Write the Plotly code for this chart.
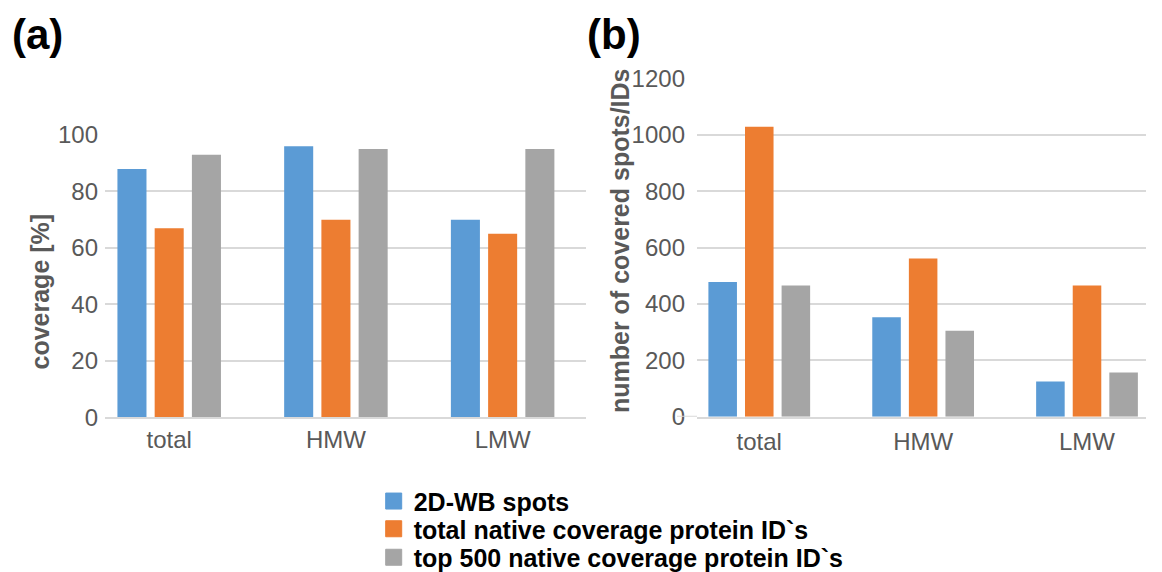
import plotly.graph_objects as go

# ---- data ----
categories = ["total", "HMW", "LMW"]
series_names = [
    "2D-WB spots",
    "total native coverage protein ID`s",
    "top 500 native coverage protein ID`s",
]
coverage_pct = {
    "2D-WB spots": [88, 96, 70],
    "total native coverage protein ID`s": [67, 70, 65],
    "top 500 native coverage protein ID`s": [93, 95, 95],
}
covered_counts = {
    "2D-WB spots": [478, 353, 125],
    "total native coverage protein ID`s": [1028, 561, 465],
    "top 500 native coverage protein ID`s": [465, 305, 157],
}
left_ticks = [0, 20, 40, 60, 80, 100]
right_ticks = [0, 200, 400, 600, 800, 1000, 1200]

colors = ["#5B9BD5", "#ED7D31", "#A5A5A5"]

W, H = 1162, 572
FONT = "Liberation Sans, Arial, sans-serif"
TICK_COLOR = "#595959"
GRID = "#D9D9D9"


def px_x(x):
    return x / W


def px_y(y):
    return 1 - y / H


fig = go.Figure()

legend_names = ["legend", "legend2", "legend3"]
for i, name in enumerate(series_names):
    fig.add_trace(go.Bar(
        x=categories, y=coverage_pct[name], name=name,
        marker=dict(color=colors[i], line=dict(width=0)),
        xaxis="x", yaxis="y", showlegend=False, legendgroup=name,
    ))
    fig.add_trace(go.Bar(
        x=categories, y=covered_counts[name], name=name,
        marker=dict(color=colors[i], line=dict(width=0)),
        xaxis="x2", yaxis="y2", showlegend=False, legendgroup=name,
    ))

# legend entries: square swatches, one legend per row
for i, name in enumerate(series_names):
    fig.add_trace(go.Scatter(
        x=[None], y=[None], mode="markers", name=name,
        marker=dict(symbol="square", size=16, color=colors[i],
                    line=dict(width=1, color=colors[i])),
        xaxis="x", yaxis="y", legendgroup=name, legend=legend_names[i],
        showlegend=True, hoverinfo="skip",
    ))

tick_font = dict(family=FONT, size=24, color=TICK_COLOR)

common_x = dict(
    type="category", showgrid=False, zeroline=False, showline=True,
    linecolor=GRID, linewidth=2, ticks="", tickfont=tick_font,
    fixedrange=True,
)
common_y = dict(
    showgrid=True, gridcolor=GRID, gridwidth=2, zeroline=False,
    showline=False, ticks="", tickfont=tick_font, fixedrange=True,
)

fig.update_layout(
    width=W, height=H,
    margin=dict(l=0, r=0, t=0, b=0, autoexpand=False),
    paper_bgcolor="white", plot_bgcolor="white",
    barmode="group", bargap=0.33, bargroupgap=0.22,
    font=dict(family=FONT),
    xaxis=dict(common_x, domain=[px_x(105), px_x(586)], range=[-0.385, 2.5],
               anchor="y", ticklabelstandoff=0),
    yaxis=dict(common_y, domain=[px_y(417.3), px_y(135)], range=[0, 100],
               tickvals=left_ticks, anchor="x", ticklabelstandoff=6),
    xaxis2=dict(common_x, domain=[px_x(697), px_x(1146)], range=[-0.38, 2.36],
                anchor="y2", ticklabelstandoff=2),
    yaxis2=dict(common_y, domain=[px_y(416.7), px_y(78.3)], range=[0, 1200],
                tickvals=right_ticks, anchor="x2", ticklabelstandoff=11),
)

legend_rows = [501.3, 529.0, 557.5]
for lname, yc in zip(legend_names, legend_rows):
    fig.update_layout({lname: dict(
        x=px_x(393.7 - 20), xanchor="left", y=px_y(yc), yanchor="middle",
        font=dict(family=FONT, size=25, color="black", weight="bold"),
        bgcolor="rgba(0,0,0,0)", itemsizing="trace", borderwidth=0,
    )})

# baseline of the right panel runs a little past its gridlines
fig.add_shape(type="line", xref="paper", yref="y2",
              x0=px_x(677), x1=px_x(697), y0=0, y1=0,
              line=dict(color=GRID, width=2))

title_font = dict(family=FONT, size=25, color=TICK_COLOR, weight="bold")
fig.add_annotation(text="coverage [%]", xref="paper", yref="paper",
                   x=px_x(39), y=px_y(291.5), textangle=-90, showarrow=False,
                   font=title_font, xanchor="center", yanchor="middle")
fig.add_annotation(text="number of covered spots/IDs", xref="paper", yref="paper",
                   x=px_x(620), y=px_y(241), textangle=-90, showarrow=False,
                   font=title_font, xanchor="center", yanchor="middle")

panel_font = dict(family=FONT, size=42, color="black", weight="bold")
fig.add_annotation(text="(a)", xref="paper", yref="paper",
                   x=px_x(37), y=px_y(34), showarrow=False, font=panel_font,
                   xanchor="center", yanchor="middle")
fig.add_annotation(text="(b)", xref="paper", yref="paper",
                   x=px_x(614), y=px_y(34), showarrow=False, font=panel_font,
                   xanchor="center", yanchor="middle")

fig.write_html("out.html")
